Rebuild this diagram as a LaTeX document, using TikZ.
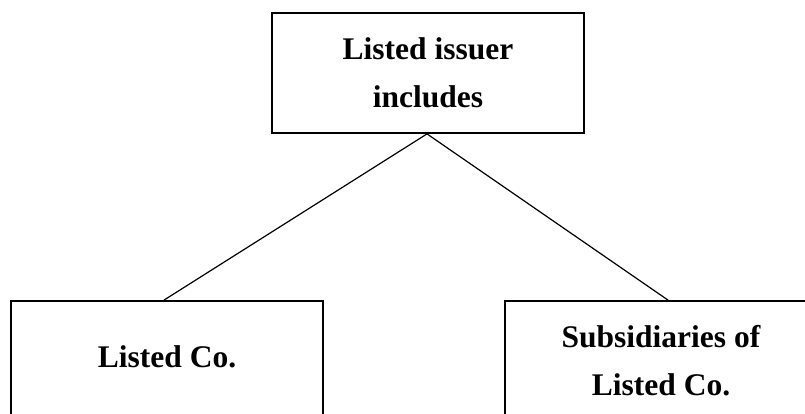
\documentclass[tikz,border=0pt]{standalone}
\usepackage{fontspec}
\setmainfont{Liberation Serif}
\begin{document}
\begin{tikzpicture}[x=1pt,y=-1pt,
  box/.style={draw, line width=1.8pt, minimum width=312pt, minimum height=120pt,
    inner sep=0pt, align=center, font=\fontsize{31.5}{48}\selectfont\bfseries},
  link/.style={line width=1.2pt}]
\useasboundingbox (0,0) rectangle (805,414);
\clip (0,0) rectangle (805,414);
% parent box
\node[box] (top) at (428,73) {Listed issuer\\includes};
% child boxes (their lower edges run off the page)
\node[box, text depth=8pt] (co) at (167,361) {Listed Co.};
\node[box] (sub) at (661,361) {Subsidiaries of\\Listed Co.};
% branches
\coordinate (apex) at ([xshift=-1pt]top.south);
\draw[link] (apex) -- ([xshift=-3pt]co.north);
\draw[link] (apex) -- ([xshift=7pt]sub.north);
\end{tikzpicture}
\end{document}
